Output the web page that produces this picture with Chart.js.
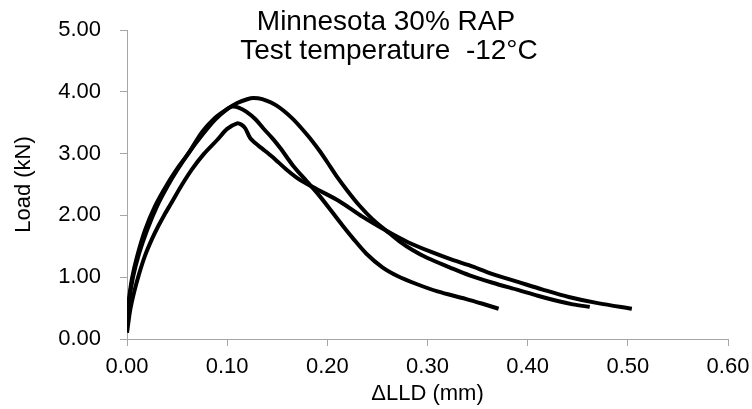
<!DOCTYPE html>
<html>
<head>
<meta charset="utf-8">
<script src="https://cdn.jsdelivr.net/npm/chart.js@4.4.1/dist/chart.umd.min.js"></script>
<style>
  html, body { margin: 0; padding: 0; background: #fff; }
  #wrap { width: 752px; height: 409px; }
</style>
</head>
<body>
<div id="wrap"><canvas id="loadChart" width="752" height="409"></canvas></div>
<script>
// Titulo e eixos
const titleLines = ['Minnesota 30% RAP', 'Test temperature  -12°C'];
const xTitle = 'ΔLLD (mm)';
const yTitle = 'Load (kN)';
const xTicks = [0, 0.1, 0.2, 0.3, 0.4, 0.5, 0.6];
const yTicks = [0, 1, 2, 3, 4, 5];

// Curva 1 (pico ~3.9 kN)
const specA_x = [0, 0.002, 0.006, 0.012, 0.02, 0.03, 0.04, 0.05, 0.062, 0.075, 0.088, 0.1, 0.11, 0.12, 0.126, 0.135, 0.149, 0.165, 0.18, 0.192, 0.2, 0.209, 0.22, 0.232, 0.245, 0.259, 0.272, 0.285, 0.3, 0.322, 0.342, 0.365, 0.391, 0.41, 0.431, 0.445, 0.462];
const specA_y = [0.2, 0.6, 1.0, 1.38, 1.76, 2.15, 2.46, 2.73, 3.02, 3.3, 3.55, 3.72, 3.82, 3.88, 3.9, 3.88, 3.78, 3.57, 3.3, 3.05, 2.86, 2.64, 2.4, 2.16, 1.94, 1.75, 1.58, 1.44, 1.31, 1.16, 1.03, 0.91, 0.79, 0.7, 0.61, 0.56, 0.52];

// Curva 2 (pico ~3.76 kN)
const specB_x = [0, 0.002, 0.005, 0.01, 0.018, 0.028, 0.04, 0.052, 0.062, 0.075, 0.088, 0.098, 0.105, 0.112, 0.119, 0.128, 0.136, 0.145, 0.153, 0.166, 0.179, 0.192, 0.206, 0.215, 0.225, 0.239, 0.255, 0.27, 0.289, 0.31, 0.338, 0.355, 0.371];
const specB_y = [0.35, 0.65, 0.98, 1.33, 1.76, 2.15, 2.5, 2.8, 3.02, 3.35, 3.58, 3.7, 3.76, 3.74, 3.68, 3.56, 3.41, 3.25, 3.09, 2.8, 2.56, 2.32, 2.03, 1.84, 1.64, 1.38, 1.16, 1.02, 0.89, 0.77, 0.65, 0.57, 0.49];

// Curva 3 (pico ~3.49 kN)
const specC_x = [0, 0.003, 0.007, 0.012, 0.018, 0.025, 0.031, 0.037, 0.045, 0.055, 0.065, 0.077, 0.09, 0.1, 0.11, 0.114, 0.118, 0.123, 0.128, 0.135, 0.145, 0.16, 0.173, 0.19, 0.212, 0.235, 0.259, 0.28, 0.305, 0.325, 0.342, 0.365, 0.391, 0.415, 0.441, 0.47, 0.504];
const specC_y = [0.1, 0.45, 0.75, 1.05, 1.35, 1.62, 1.82, 2.0, 2.22, 2.5, 2.75, 3.0, 3.22, 3.4, 3.49, 3.47, 3.41, 3.25, 3.17, 3.08, 2.95, 2.73, 2.57, 2.42, 2.23, 1.98, 1.75, 1.57, 1.4, 1.28, 1.19, 1.05, 0.92, 0.8, 0.68, 0.58, 0.49];

const toPoints = (xs, ys) => xs.map((x, i) => ({ x: x, y: ys[i] }));

const fontFamily = '"Liberation Sans", Arial, sans-serif';
const axisGray = '#a6a6a6';

// Titulo desenhado dentro da area do grafico
const titlePlugin = {
    id: 'innerTitle',
    afterDraw(chart) {
        const ctx = chart.ctx;
        ctx.save();
        ctx.fillStyle = '#000';
        ctx.font = '28px ' + fontFamily;
        ctx.textAlign = 'center';
        ctx.textBaseline = 'alphabetic';
        ctx.fillText(titleLines[0], 386, 30);
        ctx.fillText(titleLines[1], 389, 59);
        ctx.restore();
    }
};

const lineStyle = {
    showLine: true,
    borderColor: '#000',
    borderWidth: 4,
    pointRadius: 0,
    tension: 0.3,
    fill: false
};

const ctx = document.getElementById('loadChart').getContext('2d');
new Chart(ctx, {
    type: 'scatter',
    data: {
        datasets: [
            Object.assign({ label: 'A', data: toPoints(specA_x, specA_y) }, lineStyle),
            Object.assign({ label: 'B', data: toPoints(specB_x, specB_y) }, lineStyle),
            Object.assign({ label: 'C', data: toPoints(specC_x, specC_y) }, lineStyle)
        ]
    },
    options: {
        responsive: false,
        animation: false,
        layout: { padding: { top: 30, right: 24, bottom: 0, left: 0 } },
        plugins: {
            legend: { display: false },
            tooltip: { enabled: false }
        },
        scales: {
            x: {
                type: 'linear',
                min: 0,
                max: 0.6,
                afterBuildTicks: s => { s.ticks = xTicks.map(v => ({ value: v })); },
                afterFit: s => { s.height = 70; s.paddingLeft = 0; s.paddingRight = 0; },
                border: { color: axisGray, width: 1 },
                grid: { drawOnChartArea: false, drawTicks: true, tickLength: 7, color: axisGray },
                ticks: {
                    color: '#000',
                    padding: 8,
                    maxRotation: 0,
                    font: { family: fontFamily, size: 22 },
                    callback: v => v.toFixed(2)
                },
                title: {
                    display: true,
                    text: xTitle,
                    color: '#000',
                    padding: { top: 0, bottom: 2 },
                    font: { family: fontFamily, size: 22 }
                }
            },
            y: {
                min: 0,
                max: 5,
                afterBuildTicks: s => { s.ticks = yTicks.map(v => ({ value: v })); },
                afterFit: s => { s.width = 127; s.paddingTop = 0; s.paddingBottom = 0; },
                border: { color: axisGray, width: 1 },
                grid: { drawOnChartArea: false, drawTicks: true, tickLength: 7, color: axisGray },
                ticks: {
                    color: '#000',
                    padding: 19,
                    font: { family: fontFamily, size: 22 },
                    callback: v => v.toFixed(2)
                },
                title: {
                    display: true,
                    text: yTitle,
                    color: '#000',
                    padding: { top: 11, bottom: 0 },
                    font: { family: fontFamily, size: 22 }
                }
            }
        }
    },
    plugins: [titlePlugin]
});
</script>
</body>
</html>
